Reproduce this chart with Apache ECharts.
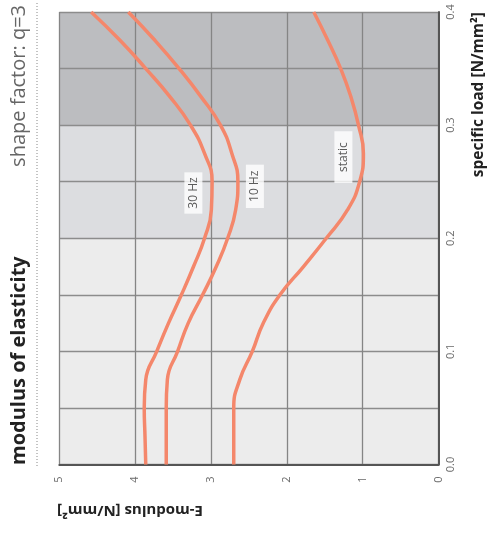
<!DOCTYPE html>
<html>
<head>
<meta charset="utf-8">
<script src="https://cdn.jsdelivr.net/npm/echarts@6/dist/echarts.min.js"></script>
<style>
html,body{margin:0;padding:0;background:#fff;}
#chart{width:492px;height:538px;}
</style>
</head>
<body>
<div id="chart"></div>
<script>
// ---- data ----
var loadTicks = [0, 0.05, 0.1, 0.15, 0.2, 0.25, 0.3, 0.35, 0.4];
var modulusTicks = [0, 1, 2, 3, 4, 5];
var bandEdges = [0, 0.2, 0.3, 0.4];

// specific load sample points [N/mm²]
var loads   = [0, 0.025, 0.05, 0.075, 0.1, 0.125, 0.15, 0.175, 0.2, 0.225, 0.25, 0.275, 0.3, 0.325, 0.35, 0.375, 0.4];
// E-modulus values [N/mm²] read at those loads
var e30     = [3.86, 3.87, 3.88, 3.86, 3.715, 3.56, 3.39, 3.23, 3.085, 2.995, 2.985, 3.085, 3.27, 3.54, 3.86, 4.2, 4.58];
var e10     = [3.59, 3.59, 3.59, 3.575, 3.44, 3.30, 3.11, 2.93, 2.78, 2.675, 2.645, 2.725, 2.875, 3.13, 3.42, 3.74, 4.09];
var eStatic = [2.70, 2.70, 2.70, 2.62, 2.455, 2.31, 2.09, 1.78, 1.48, 1.20, 1.04, 0.99, 1.055, 1.155, 1.29, 1.46, 1.645];

var curveNames = ['30 Hz', '10 Hz', 'static'];
var labelE     = [3.232, 2.421, 1.254];
var labelLoad  = [0.240, 0.2459, 0.2718];

var titleMain = 'modulus of elasticity';
var titleSub = 'shape factor: q=3';
var xName = 'E-modulus [N/mm²]';
var yName = 'specific load [N/mm²]';

// ---- build ----
function pairs(es){ return es.map(function(e,i){ return [e, loads[i]]; }); }
var bandColors = ['#ececec', '#dcdde0', '#bcbdc0'];
var bands = [];
for (var i = 0; i < bandEdges.length - 1; i++) {
  bands.push([{yAxis: bandEdges[i], itemStyle: {color: bandColors[i]}}, {yAxis: bandEdges[i+1]}]);
}
var lineColor = '#f4876b';
var labelPads = [[3,5],[3,6],[3,11]];
var labelData = curveNames.map(function(n,i){
  return {value:[labelE[i], labelLoad[i]], name:n, label:{padding:labelPads[i]}};
});
var FONT = '"Open Sans", "Noto Sans", sans-serif';

var chart = echarts.init(document.getElementById('chart'), null, {renderer:'canvas'});
chart.setOption({
  animation: false,
  backgroundColor: '#fff',
  grid: {left: 59.3, right: 53.5, top: 12, bottom: 73.5, containLabel: false},
  xAxis: {
    type: 'value', min: modulusTicks[0], max: modulusTicks[modulusTicks.length-1], interval: 1,
    inverse: true, position: 'bottom', z: 2,
    axisLine: {show: true, onZero: false, lineStyle: {color: '#555', width: 2}},
    axisTick: {show: false},
    splitLine: {show: true, lineStyle: {color: '#858585', width: 1.3}},
    axisLabel: {rotate: 90, margin: 12, color: '#6a6a6a', fontSize: 11, fontFamily: FONT}
  },
  yAxis: {
    type: 'value', min: loadTicks[0], max: loadTicks[loadTicks.length-1], interval: 0.05,
    position: 'right', z: 2,
    axisLine: {show: true, onZero: false, lineStyle: {color: '#555', width: 2}},
    axisTick: {show: false},
    splitLine: {show: true, lineStyle: {color: '#8c8c8c', width: 1.3}},
    axisLabel: {rotate: 90, margin: 7, color: '#6a6a6a', fontSize: 11, fontFamily: FONT,
      formatter: function(v){ var k = Math.round(v*100); return (k % 10 === 0) ? (k/100).toFixed(1) : ''; }}
  },
  series: [
    {type:'line', name:curveNames[0], data: pairs(e30), smooth: 0.5, symbol:'none',
     lineStyle:{color: lineColor, width: 3.5}, z: 3,
     markArea: {silent: true, data: bands, z: 1}},
    {type:'line', name:curveNames[1], data: pairs(e10), smooth: 0.5, symbol:'none',
     lineStyle:{color: lineColor, width: 3.5}, z: 3},
    {type:'line', name:curveNames[2], data: pairs(eStatic), smooth: 0.5, symbol:'none',
     lineStyle:{color: lineColor, width: 3.5}, z: 3},
    {type:'scatter', data: labelData, symbolSize: 0, z: 5,
     label: {show: true, position: 'inside', rotate: 90, formatter: '{b}', color: '#333', fontSize: 12,
       fontFamily: FONT, backgroundColor: '#ffffff'}}
  ],
  graphic: [
    {type:'line', shape:{x1:37, y1:3, x2:37, y2:467}, style:{stroke:'#888', lineWidth:1, lineDash:[1,2]}},
    {type:'text', x: 19, y: 465, rotation: Math.PI/2,
     style:{text: titleMain, font: 'bold 20px ' + FONT, fill:'#222', textAlign:'left', textVerticalAlign:'middle'}},
    {type:'text', x: 19, y: 5, rotation: Math.PI/2,
     style:{text: titleSub, font: '20px ' + FONT, fill:'#666', textAlign:'right', textVerticalAlign:'middle'}},
    {type:'text', x: 479, y: 12, rotation: Math.PI/2,
     style:{text: yName, font: 'bold 15.5px ' + FONT, fill:'#222', textAlign:'right', textVerticalAlign:'middle'}},
    {type:'text', x: 203, y: 510, rotation: Math.PI,
     style:{text: xName, font: 'bold 15px ' + FONT, fill:'#222', textAlign:'left', textVerticalAlign:'middle'}}
  ]
});
</script>
</body>
</html>
